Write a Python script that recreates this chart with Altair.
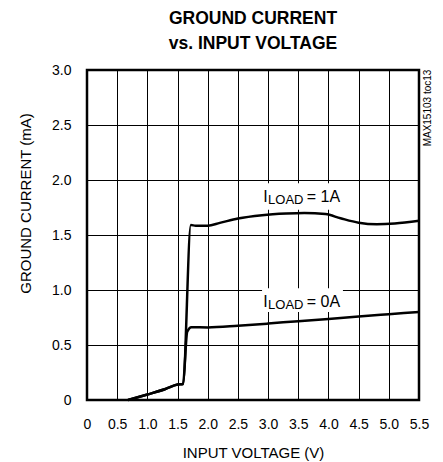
import altair as alt
import pandas as pd

FONT = "Liberation Sans Narrow, Liberation Sans, Arial"

# Series data (INPUT VOLTAGE V, GROUND CURRENT mA)
x_1a = [0.68, 1.0, 1.3, 1.5, 1.59, 1.72, 1.8, 2.0, 2.2, 2.5, 2.9, 3.3, 3.6, 3.95, 4.2, 4.5, 4.8, 5.1, 5.5]
y_1a = [0.0, 0.05, 0.1, 0.14, 0.145, 1.59, 1.585, 1.585, 1.61, 1.65, 1.68, 1.695, 1.70, 1.69, 1.652, 1.612, 1.598, 1.605, 1.63]
x_0a = [0.68, 1.0, 1.3, 1.5, 1.59, 1.66, 1.73, 2.0, 2.5, 3.0, 3.5, 4.0, 4.5, 5.0, 5.5]
y_0a = [0.0, 0.05, 0.1, 0.14, 0.145, 0.62, 0.662, 0.66, 0.675, 0.695, 0.717, 0.737, 0.76, 0.78, 0.80]

x_ticks = [0, 0.5, 1.0, 1.5, 2.0, 2.5, 3.0, 3.5, 4.0, 4.5, 5.0, 5.5]
y_ticks = [0, 0.5, 1.0, 1.5, 2.0, 2.5, 3.0]

# Annotation labels
lab_text = ["I", "LOAD", "= 1A", "I", "LOAD", "= 0A"]
lab_x = [2.92, 3.0, 3.64, 2.92, 3.0, 3.64]
lab_y = [1.80, 1.78, 1.80, 0.85, 0.83, 0.85]
lab_size = [16, 13, 16, 16, 13, 16]
box_x = [2.9, 2.9]
box_x2 = [4.24, 4.24]
box_y = [1.73, 0.80]
box_y2 = [1.97, 1.015]

df = pd.concat([
    pd.DataFrame({"v": x_1a, "i": y_1a, "s": "1A"}),
    pd.DataFrame({"v": x_0a, "i": y_0a, "s": "0A"}),
])
labels = pd.DataFrame({"x": lab_x, "y": lab_y, "t": lab_text, "size": lab_size})
boxes = pd.DataFrame({"x": box_x, "x2": box_x2, "y": box_y, "y2": box_y2})

fmt = "datum.value == 0 ? '0' : format(datum.value, '.1f')"
xscale = alt.Scale(domain=[0, 5.5], nice=False, zero=False)
yscale = alt.Scale(domain=[0, 3.0], nice=False)

xaxis = alt.Axis(values=x_ticks, labelExpr=fmt, title="INPUT VOLTAGE (V)", grid=True,
                 gridColor="black", gridWidth=1, gridOpacity=1, ticks=False, domain=False,
                 labelOverlap=False, labelFlush=False,
                 labelFont=FONT, labelFontSize=14, labelColor="black", labelPadding=17,
                 titleFont=FONT, titleFontSize=15, titleFontWeight="normal", titleColor="black",
                 titlePadding=14)
yaxis = alt.Axis(values=y_ticks, labelExpr=fmt, title="GROUND CURRENT (mA)", grid=True,
                 gridColor="black", gridWidth=1, gridOpacity=1, ticks=False, domain=False,
                 labelOverlap=False, labelFlush=False,
                 labelFont=FONT, labelFontSize=14, labelColor="black", labelPadding=16,
                 titleFont=FONT, titleFontSize=15, titleFontWeight="normal", titleColor="black",
                 titleX=-62, titleY=133, titleAngle=270, titleAlign="center", titleBaseline="middle")

X = alt.X("v:Q", scale=xscale, axis=xaxis)
Y = alt.Y("i:Q", scale=yscale, axis=yaxis)

lines = alt.Chart(df).mark_line(color="black", strokeWidth=2.5, interpolate="monotone").encode(
    x=X, y=Y, detail="s:N",
)

rects = alt.Chart(boxes).mark_rect(color="white").encode(
    x=alt.X("x:Q", scale=xscale, axis=xaxis), x2="x2:Q",
    y=alt.Y("y:Q", scale=yscale, axis=yaxis), y2="y2:Q",
)

texts = alt.Chart(labels).mark_text(align="left", baseline="alphabetic", font=FONT, color="black").encode(
    x=alt.X("x:Q", scale=xscale, axis=xaxis),
    y=alt.Y("y:Q", scale=yscale, axis=yaxis),
    text="t:N",
    size=alt.Size("size:Q", scale=None, legend=None),
)

note = alt.Chart(pd.DataFrame({"t": ["MAX15103 toc13"]})).mark_text(
    angle=270, font=FONT, fontSize=10, color="black", align="center", baseline="middle"
).encode(x=alt.value(341), y=alt.value(38), text="t:N")

chart = alt.layer(rects, lines, texts, note).properties(
    width=332, height=330,
    title=alt.TitleParams(["GROUND CURRENT", "vs. INPUT VOLTAGE"], font=FONT, fontSize=17.5,
                          fontWeight="bold", color="black", lineHeight=25, anchor="middle",
                          offset=11),
    padding={"left": 87, "top": 70, "right": 24, "bottom": 62},
    autosize=alt.AutoSizeParams(type="none"),
).configure_view(stroke="black", strokeWidth=2.5)

chart.save("out.html", embed_options={"renderer": "svg", "actions": False})
